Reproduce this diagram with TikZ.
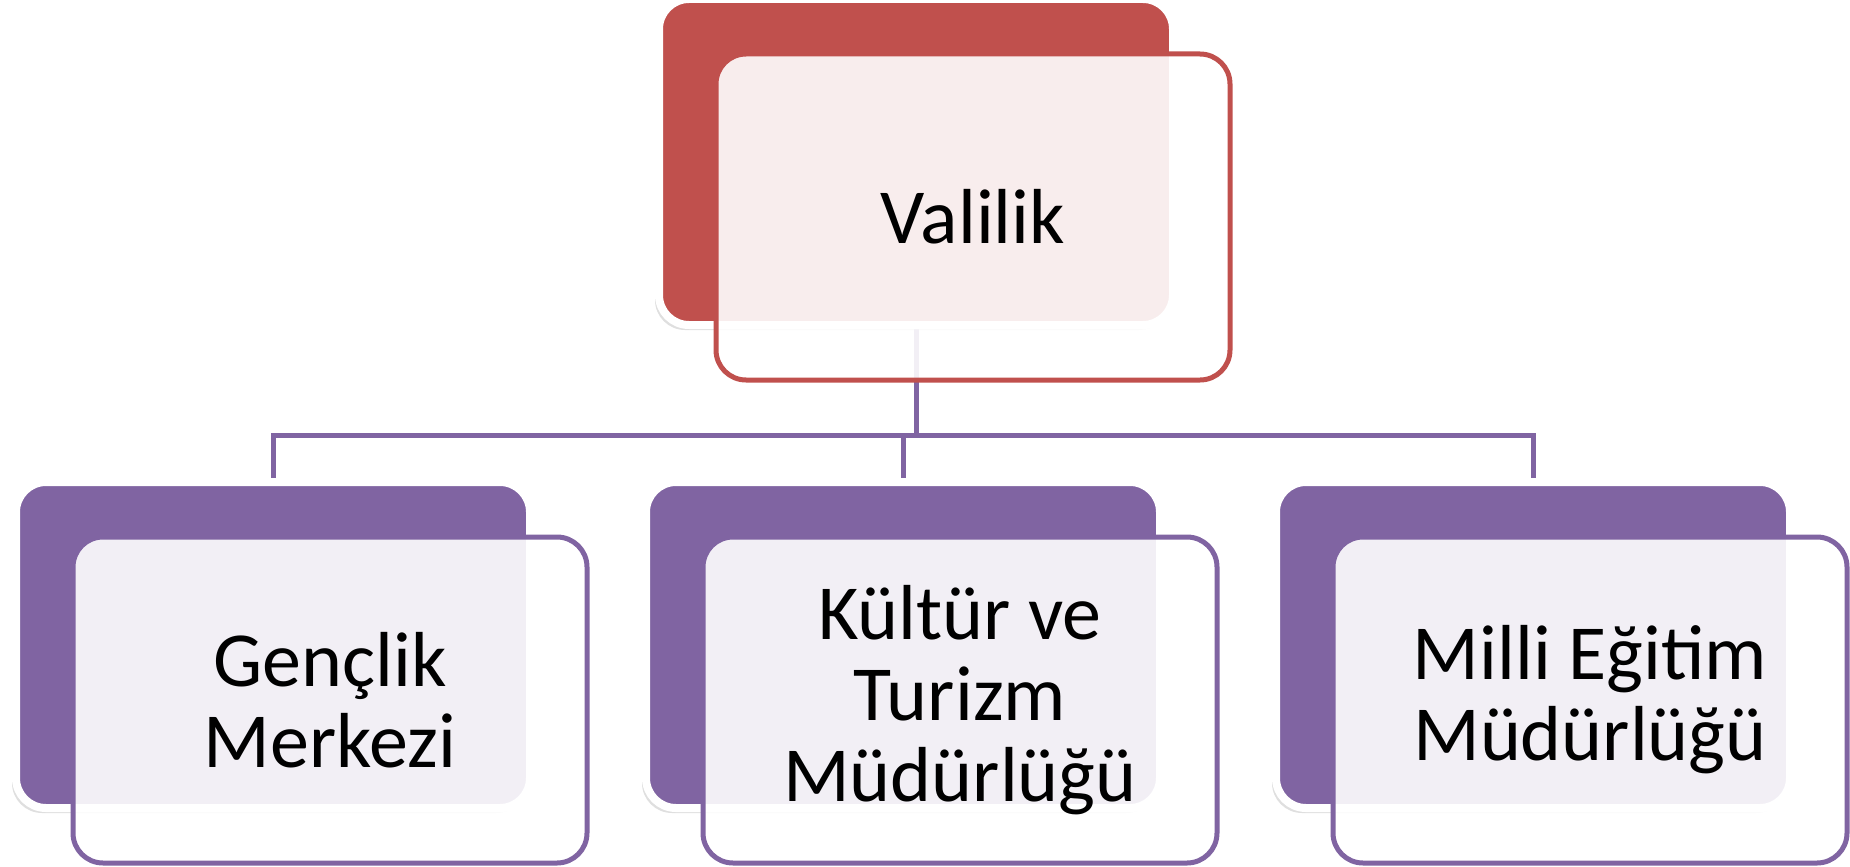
\documentclass[tikz,border=0pt]{standalone}
\usepackage{fontspec}
\setmainfont{Carlito}
\usepackage{tikz}
\usetikzlibrary{shadows,backgrounds}

\definecolor{valred}{HTML}{C0504D}
\definecolor{mudpurple}{HTML}{8064A2}

\tikzset{
    backbox/.style={rectangle, rounded corners=30pt, minimum width=514pt, minimum height=326pt,
        inner sep=0pt, outer sep=0pt, draw=white, line width=8pt,
        drop shadow={shadow xshift=-4pt, shadow yshift=-5pt, opacity=.25}},
    frontbox/.style={rectangle, rounded corners=30pt, minimum width=514pt, minimum height=326pt,
        inner sep=0pt, outer sep=0pt, fill=white, fill opacity=.9, text opacity=1,
        line width=5pt, align=center, font=\fontsize{78}{81}\selectfont},
    conn/.style={draw=mudpurple, line width=5pt}
}

\begin{document}
\begin{tikzpicture}[x=1pt, y=-1pt]
    \useasboundingbox (0,0) rectangle (1850,867);

    % Back boxes
    \node[backbox, fill=valred] (valB) at (916,162) {};
    \node[backbox, fill=mudpurple] (gencB) at (273,645) {};
    \node[backbox, fill=mudpurple] (kulturB) at (903,645) {};
    \node[backbox, fill=mudpurple] (milliB) at (1533,645) {};

    % Front boxes with the names
    \node[frontbox, draw=valred] (valF) at ([shift={(57,55)}]valB.center) {Valilik};
    \node[frontbox, draw=mudpurple] (gencF) at ([shift={(57,55)}]gencB.center) {Gençlik\\Merkezi};
    \node[frontbox, draw=mudpurple] (kulturF) at ([shift={(57,55)}]kulturB.center) {Kültür ve\\Turizm\\Müdürlüğü};
    \node[frontbox, draw=mudpurple] (milliF) at ([shift={(57,55)}]milliB.center) {Milli Eğitim\\Müdürlüğü};

    % Connectors
    \begin{scope}[on background layer]
        \coordinate (bus) at (916,435);
        \draw[conn] (valB.south) -- (bus);
        \draw[conn] (gencB.north) |- (bus) -| (milliB.north);
        \draw[conn] (kulturB.north) -- (kulturB.north |- bus);
    \end{scope}
\end{tikzpicture}
\end{document}
